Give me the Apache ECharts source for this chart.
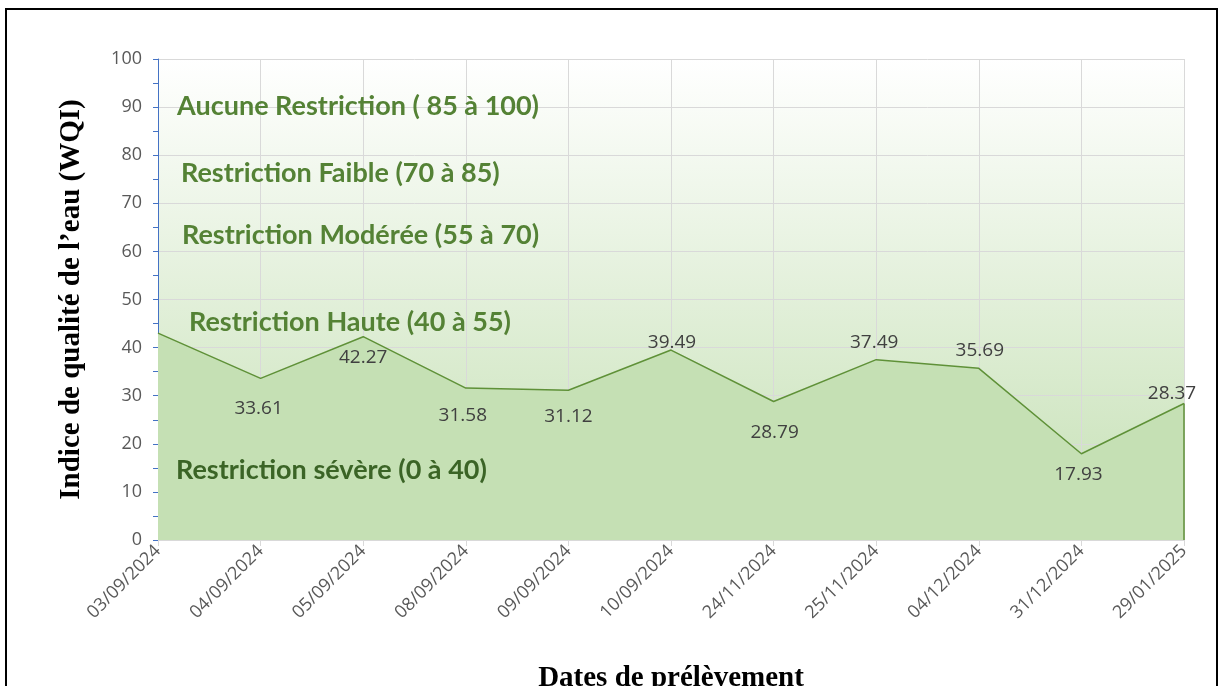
<!DOCTYPE html>
<html>
<head>
<meta charset="utf-8">
<script src="https://cdn.jsdelivr.net/npm/echarts@6/dist/echarts.min.js"></script>
<style>
  html, body { margin: 0; padding: 0; background: #fff; }
  #chart { width: 1219px; height: 686px; }
</style>
</head>
<body>
<div id="chart"></div>
<script>
// sampling dates and WQI values
const dates = ['03/09/2024', '04/09/2024', '05/09/2024', '08/09/2024', '09/09/2024', '10/09/2024',
  '24/11/2024', '25/11/2024', '04/12/2024', '31/12/2024', '29/01/2025']
const wqi = [43.0, 33.61, 42.27, 31.58, 31.12, 39.49, 28.79, 37.49, 35.69, 17.93, 28.37]

const yTicks = [0, 100, 10]

// label offsets from each point, in px (first label is not shown in the figure)
const labelShift = [null, [-2, 30], [0, 21], [-3, 27], [0, 26], [1, -7], [1, 31], [-2, -17], [1, -18], [-3, 21], [-12, -10]]

// class annotations
const classes = [
  { text: 'Aucune Restriction ( 85 à 100)', x: 177, y: 106, color: '#548235' },
  { text: 'Restriction Faible (70 à 85)', x: 181, y: 173, color: '#548235' },
  { text: 'Restriction Modérée (55 à 70)', x: 182, y: 235, color: '#548235' },
  { text: 'Restriction Haute (40 à 55)', x: 189, y: 322, color: '#548235' },
  { text: 'Restriction sévère (0 à 40)', x: 176, y: 470, color: '#3b6426' },
]

const chart = echarts.init(document.getElementById('chart'))

const seriesData = wqi.map((v, i) => ({
  value: v,
  label: { show: !!labelShift[i] },
}))

chart.setOption({
  animation: false,
  grid: {
    left: 158, right: 35, top: 59, bottom: 146,
    outerBoundsMode: 'none',
    containLabel: false,
    show: true,
    borderWidth: 0,
    backgroundColor: new echarts.graphic.LinearGradient(0, 0, 0, 1, [
      { offset: 0, color: '#ffffff' },
      { offset: 1, color: '#c5e0b4' },
    ]),
  },
  xAxis: {
    type: 'category',
    data: dates,
    boundaryGap: false,
    name: 'Dates de prélèvement',
    nameLocation: 'middle',
    nameGap: 124,
    nameTextStyle: { fontFamily: 'Liberation Serif', fontWeight: 'bold', fontSize: 29, color: '#000' },
    axisLine: { lineStyle: { color: '#d9d9d9', width: 1 } },
    axisTick: { show: true, length: 6, lineStyle: { color: '#d9d9d9' } },
    splitLine: { show: true, lineStyle: { color: '#d9d9d9', width: 1 } },
    axisLabel: { rotate: 45, margin: 8, color: '#595959', fontSize: 18, fontFamily: 'Open Sans' },
  },
  yAxis: {
    type: 'value',
    min: yTicks[0], max: yTicks[1], interval: yTicks[2],
    name: 'Indice de qualité de l’eau (WQI)',
    nameLocation: 'middle',
    nameGap: 72,
    nameTextStyle: { fontFamily: 'Liberation Serif', fontWeight: 'bold', fontSize: 29, color: '#000' },
    axisLine: { show: true, lineStyle: { color: '#4472c4', width: 1 } },
    axisTick: { show: true, length: 5, lineStyle: { color: '#4472c4' } },
    minorTick: { show: true, splitNumber: 2, length: 5, lineStyle: { color: '#4472c4' } },
    splitLine: { show: true, lineStyle: { color: '#d9d9d9', width: 1 } },
    axisLabel: { margin: 16, color: '#595959', fontSize: 18, fontFamily: 'Open Sans' },
  },
  series: [{
    type: 'line',
    data: seriesData,
    symbol: 'circle',
    symbolSize: 0.1,
    showSymbol: true,
    itemStyle: { color: '#5f9138' },
    lineStyle: { color: '#5f9138', width: 1.5 },
    areaStyle: { color: '#c5e0b4', opacity: 1 },
    label: { position: 'inside', color: '#404040', fontSize: 19, fontFamily: 'Open Sans' },
    labelLayout: (p) => {
      const s = labelShift[p.dataIndex] || [0, 0]
      return { dx: s[0], dy: s[1], hideOverlap: false }
    },
    markLine: {
      silent: true,
      symbol: 'none',
      label: { show: false },
      lineStyle: { color: '#5f9138', width: 1.5, type: 'solid' },
      data: [[
        { coord: [dates.length - 1, 0] },
        { coord: [dates.length - 1, wqi[wqi.length - 1]] },
      ]],
    },
  }],
  graphic: [
    {
      type: 'rect',
      shape: { x: 6, y: 9, width: 1211, height: 700 },
      style: { fill: 'none', stroke: '#000', lineWidth: 2 },
      silent: true,
      z: 100,
    },
    ...classes.map(c => ({
      type: 'text',
      x: c.x, y: c.y,
      z: 100,
      style: {
        text: c.text,
        fill: c.color,
        font: 'bold 27px Lato',
        textVerticalAlign: 'middle',
      },
    })),
  ],
})
</script>
</body>
</html>
